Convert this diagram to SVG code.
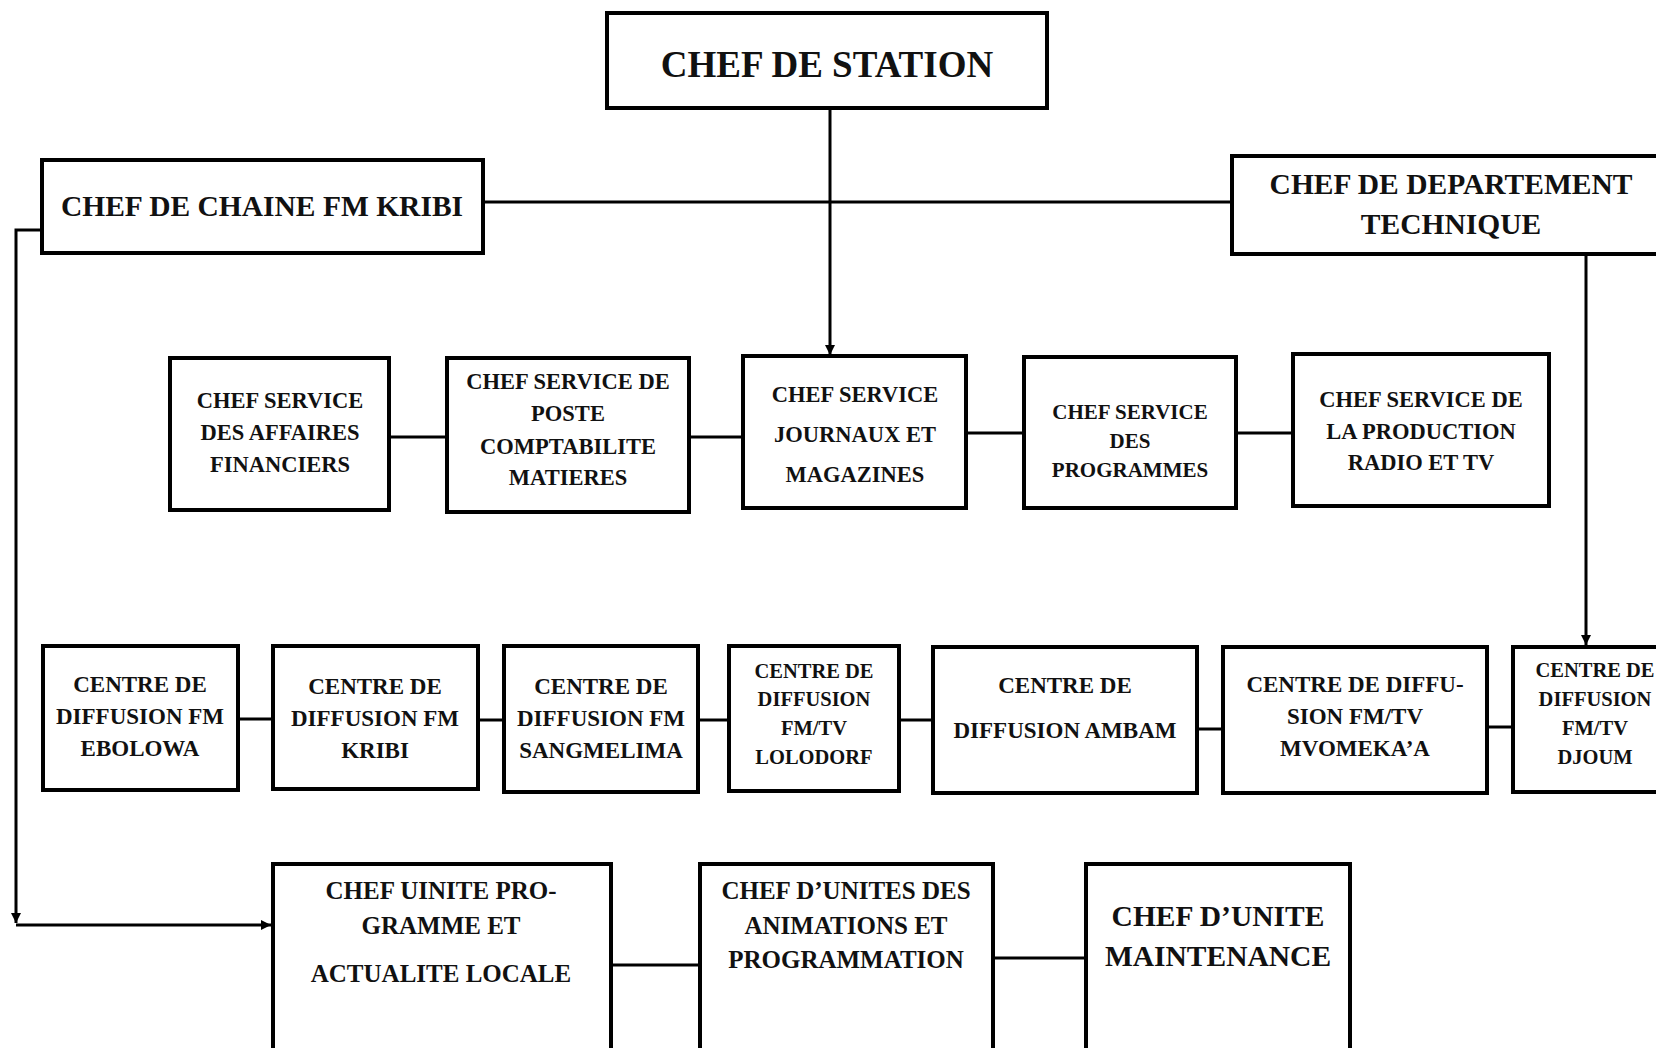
<svg xmlns="http://www.w3.org/2000/svg" width="1656" height="1048" viewBox="0 0 1656 1048">
<defs>
<style>
.box{fill:#fff;stroke:#000;stroke-width:4}
.ln{fill:none;stroke:#000;stroke-width:3}
text{font-family:"Liberation Serif","Times New Roman",serif;font-weight:bold;fill:#111;text-anchor:middle}
.t37{font-size:37px}
.t29{font-size:29.5px}
.t25{font-size:25px}
.t23{font-size:23px}
.t22{font-size:22.5px}
.t21{font-size:21px}
.t20{font-size:20.5px}
</style>
<marker id="arr" markerUnits="userSpaceOnUse" markerWidth="12" markerHeight="12" refX="10" refY="5" orient="auto">
<path d="M0,0 L10,5 L0,10 z" fill="#000"/>
</marker>
</defs>
<rect width="1656" height="1048" fill="#fff"/>
<g id="connectors">
<path class="ln" d="M830,108 V355" marker-end="url(#arr)"/>
<path class="ln" d="M483,202 H1232"/>
<path class="ln" d="M1586,254 V645" marker-end="url(#arr)"/>
<path class="ln" d="M42,230 H16 V923" marker-end="url(#arr)"/>
<path class="ln" d="M16,925 H271" marker-end="url(#arr)"/>
<path class="ln" d="M389,437 H447"/>
<path class="ln" d="M689,437 H743"/>
<path class="ln" d="M966,433 H1024"/>
<path class="ln" d="M1236,433 H1293"/>
<path class="ln" d="M238,719 H273"/>
<path class="ln" d="M478,720 H504"/>
<path class="ln" d="M698,720 H729"/>
<path class="ln" d="M899,720 H933"/>
<path class="ln" d="M1197,729 H1223"/>
<path class="ln" d="M1487,727 H1513"/>
<path class="ln" d="M611,965 H700"/>
<path class="ln" d="M993,958 H1086"/>
</g>
<g id="chef-station">
<rect class="box" x="607" y="13" width="440" height="95"/>
<text class="t37" x="827" y="77">CHEF DE STATION</text>
</g>
<g id="chef-chaine">
<rect class="box" x="42" y="160" width="441" height="93"/>
<text class="t29" x="262" y="216">CHEF DE CHAINE FM KRIBI</text>
</g>
<g id="chef-departement">
<rect class="box" x="1232" y="156" width="440" height="98"/>
<text class="t29" x="1451" y="194">CHEF DE DEPARTEMENT</text>
<text class="t29" x="1451" y="234">TECHNIQUE</text>
</g>
<g id="svc-affaires">
<rect class="box" x="170" y="358" width="219" height="152"/>
<text class="t22" x="280" y="408">CHEF SERVICE</text>
<text class="t22" x="280" y="440">DES AFFAIRES</text>
<text class="t22" x="280" y="472">FINANCIERS</text>
</g>
<g id="svc-poste">
<rect class="box" x="447" y="358" width="242" height="154"/>
<text class="t22" x="568" y="389">CHEF SERVICE DE</text>
<text class="t22" x="568" y="421">POSTE</text>
<text class="t22" x="568" y="454">COMPTABILITE</text>
<text class="t22" x="568" y="485">MATIERES</text>
</g>
<g id="svc-journaux">
<rect class="box" x="743" y="356" width="223" height="152"/>
<text class="t22" x="855" y="402">CHEF SERVICE</text>
<text class="t22" x="855" y="442">JOURNAUX ET</text>
<text class="t22" x="855" y="482">MAGAZINES</text>
</g>
<g id="svc-programmes">
<rect class="box" x="1024" y="357" width="212" height="151"/>
<text class="t21" x="1130" y="419">CHEF SERVICE</text>
<text class="t21" x="1130" y="448">DES</text>
<text class="t21" x="1130" y="477">PROGRAMMES</text>
</g>
<g id="svc-production">
<rect class="box" x="1293" y="354" width="256" height="152"/>
<text class="t22" x="1421" y="407">CHEF SERVICE DE</text>
<text class="t22" x="1421" y="439">LA PRODUCTION</text>
<text class="t22" x="1421" y="470">RADIO ET TV</text>
</g>
<g id="cd-ebolowa">
<rect class="box" x="43" y="646" width="195" height="144"/>
<text class="t23" x="140" y="692">CENTRE DE</text>
<text class="t23" x="140" y="724">DIFFUSION FM</text>
<text class="t23" x="140" y="756">EBOLOWA</text>
</g>
<g id="cd-kribi">
<rect class="box" x="273" y="646" width="205" height="143"/>
<text class="t23" x="375" y="694">CENTRE DE</text>
<text class="t23" x="375" y="726">DIFFUSION FM</text>
<text class="t23" x="375" y="758">KRIBI</text>
</g>
<g id="cd-sangmelima">
<rect class="box" x="504" y="646" width="194" height="146"/>
<text class="t23" x="601" y="694">CENTRE DE</text>
<text class="t23" x="601" y="726">DIFFUSION FM</text>
<text class="t23" x="601" y="758">SANGMELIMA</text>
</g>
<g id="cd-lolodorf">
<rect class="box" x="729" y="646" width="170" height="145"/>
<text class="t20" x="814" y="678">CENTRE DE</text>
<text class="t20" x="814" y="706">DIFFUSION</text>
<text class="t20" x="814" y="735">FM/TV</text>
<text class="t20" x="814" y="764">LOLODORF</text>
</g>
<g id="cd-ambam">
<rect class="box" x="933" y="647" width="264" height="146"/>
<text class="t23" x="1065" y="693">CENTRE DE</text>
<text class="t23" x="1065" y="738">DIFFUSION AMBAM</text>
</g>
<g id="cd-mvomeka">
<rect class="box" x="1223" y="647" width="264" height="146"/>
<text class="t23" x="1355" y="692">CENTRE DE DIFFU-</text>
<text class="t23" x="1355" y="724">SION FM/TV</text>
<text class="t23" x="1355" y="756">MVOMEKA’A</text>
</g>
<g id="cd-djoum">
<rect class="box" x="1513" y="647" width="170" height="145"/>
<text class="t20" x="1595" y="677">CENTRE DE</text>
<text class="t20" x="1595" y="706">DIFFUSION</text>
<text class="t20" x="1595" y="735">FM/TV</text>
<text class="t20" x="1595" y="764">DJOUM</text>
</g>
<g id="unite-programme">
<rect class="box" x="273" y="864" width="338" height="200"/>
<text class="t25" x="441" y="899">CHEF UINITE PRO-</text>
<text class="t25" x="441" y="934">GRAMME ET</text>
<text class="t25" x="441" y="982">ACTUALITE LOCALE</text>
</g>
<g id="unite-animations">
<rect class="box" x="700" y="864" width="293" height="200"/>
<text class="t25" x="846" y="899">CHEF D’UNITES DES</text>
<text class="t25" x="846" y="934">ANIMATIONS ET</text>
<text class="t25" x="846" y="968">PROGRAMMATION</text>
</g>
<g id="unite-maintenance">
<rect class="box" x="1086" y="864" width="264" height="200"/>
<text class="t29" x="1218" y="926">CHEF D’UNITE</text>
<text class="t29" x="1218" y="966">MAINTENANCE</text>
</g>
</svg>
